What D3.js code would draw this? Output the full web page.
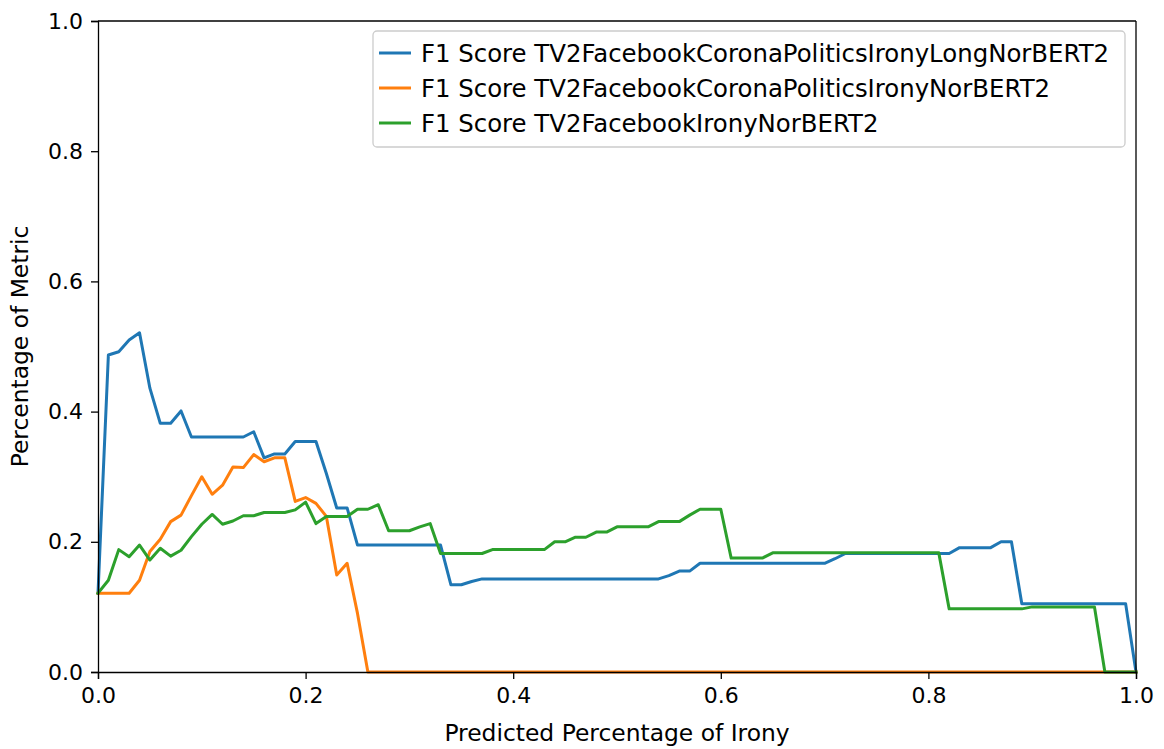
<!DOCTYPE html>
<html lang="en">
<head>
  <meta charset='utf-8'>
  <title>F1 Score vs Predicted Percentage of Irony</title>

  <style>
    body { margin: 0; background: #fff; }
    svg { display: block; background-color: #fff; font-family: "DejaVu Sans", sans-serif; }
    .domain { stroke: #000; }
  </style>
</head>

<body>
  <div id="d3_linePlot"></div>
</body>

<script src="https://cdn.jsdelivr.net/npm/d3@7/dist/d3.min.js"></script>

<script>

  ////////////////////////////////////////////////// DATA

  // x positions: 0.00, 0.01 ... 1.00
  var thresholds = d3.range(0, 101).map(function(i) { return i / 100; });

  var seriesNames = [
    "F1 Score TV2FacebookCoronaPoliticsIronyLongNorBERT2",
    "F1 Score TV2FacebookCoronaPoliticsIronyNorBERT2",
    "F1 Score TV2FacebookIronyNorBERT2"
  ];

  var longNorBERT = [
    0.121, 0.487, 0.492, 0.510, 0.521, 0.436, 0.382, 0.382, 0.401, 0.361,
    0.361, 0.361, 0.361, 0.361, 0.361, 0.369, 0.329, 0.335, 0.335, 0.354,
    0.354, 0.354, 0.305, 0.252, 0.252, 0.195, 0.195, 0.195, 0.195, 0.195,
    0.195, 0.195, 0.195, 0.195, 0.134, 0.134, 0.139, 0.143, 0.143, 0.143,
    0.143, 0.143, 0.143, 0.143, 0.143, 0.143, 0.143, 0.143, 0.143, 0.143,
    0.143, 0.143, 0.143, 0.143, 0.143, 0.148, 0.155, 0.155, 0.167, 0.167,
    0.167, 0.167, 0.167, 0.167, 0.167, 0.167, 0.167, 0.167, 0.167, 0.167,
    0.167, 0.174, 0.182, 0.182, 0.182, 0.182, 0.182, 0.182, 0.182, 0.182,
    0.182, 0.182, 0.182, 0.191, 0.191, 0.191, 0.191, 0.200, 0.200, 0.105,
    0.105, 0.105, 0.105, 0.105, 0.105, 0.105, 0.105, 0.105, 0.105, 0.105,
    0.000
  ];

  var coronaNorBERT = [
    0.121, 0.121, 0.121, 0.121, 0.141, 0.185, 0.204, 0.231, 0.241, 0.271,
    0.300, 0.273, 0.287, 0.315, 0.314, 0.334, 0.323, 0.329, 0.329, 0.262,
    0.268, 0.259, 0.239, 0.149, 0.167, 0.090, 0.000, 0.000, 0.000, 0.000,
    0.000, 0.000, 0.000, 0.000, 0.000, 0.000, 0.000, 0.000, 0.000, 0.000,
    0.000, 0.000, 0.000, 0.000, 0.000, 0.000, 0.000, 0.000, 0.000, 0.000,
    0.000, 0.000, 0.000, 0.000, 0.000, 0.000, 0.000, 0.000, 0.000, 0.000,
    0.000, 0.000, 0.000, 0.000, 0.000, 0.000, 0.000, 0.000, 0.000, 0.000,
    0.000, 0.000, 0.000, 0.000, 0.000, 0.000, 0.000, 0.000, 0.000, 0.000,
    0.000, 0.000, 0.000, 0.000, 0.000, 0.000, 0.000, 0.000, 0.000, 0.000,
    0.000, 0.000, 0.000, 0.000, 0.000, 0.000, 0.000, 0.000, 0.000, 0.000,
    0.000
  ];

  var ironyNorBERT = [
    0.121, 0.141, 0.188, 0.177, 0.195, 0.172, 0.190, 0.178, 0.187, 0.208,
    0.227, 0.242, 0.227, 0.232, 0.240, 0.240, 0.245, 0.245, 0.245, 0.249,
    0.261, 0.228, 0.239, 0.239, 0.239, 0.250, 0.250, 0.257, 0.217, 0.217,
    0.217, 0.223, 0.228, 0.182, 0.182, 0.182, 0.182, 0.182, 0.188, 0.188,
    0.188, 0.188, 0.188, 0.188, 0.200, 0.200, 0.207, 0.207, 0.215, 0.215,
    0.223, 0.223, 0.223, 0.223, 0.231, 0.231, 0.231, 0.241, 0.250, 0.250,
    0.250, 0.175, 0.175, 0.175, 0.175, 0.183, 0.183, 0.183, 0.183, 0.183,
    0.183, 0.183, 0.183, 0.183, 0.183, 0.183, 0.183, 0.183, 0.183, 0.183,
    0.183, 0.183, 0.097, 0.097, 0.097, 0.097, 0.097, 0.097, 0.097, 0.097,
    0.100, 0.100, 0.100, 0.100, 0.100, 0.100, 0.100, 0.000, 0.000, 0.000,
    0.000
  ];

  var seriesValues = [longNorBERT, coronaNorBERT, ironyNorBERT];
  var seriesColors = ["#1f77b4", "#ff7f0e", "#2ca02c"];

  var xTicks = [0, 0.2, 0.4, 0.6, 0.8, 1.0];
  var yTicks = [0, 0.2, 0.4, 0.6, 0.8, 1.0];

  var xLabel = "Predicted Percentage of Irony";
  var yLabel = "Percentage of Metric";

  ////////////////////////////////////////////////// INIT VARS

  var totalWidth = 1164;
  var totalHeight = 749;
  var margin = {top: 21, right: 28, bottom: 77, left: 98};

  var plotWidth = totalWidth - margin.left - margin.right;
  var plotHeight = totalHeight - margin.top - margin.bottom;

  var tickFontSize = 22;
  var labelFontSize = 23.4;
  var legendFontSize = 24.4;

  ////////////////////////////////////////////////// SETUP

  var svg = d3.select("#d3_linePlot").append("svg")
            .attr("width", totalWidth)
            .attr("height", totalHeight);

  var plot = svg.append("g")
            .attr("transform", "translate(" + margin.left + "," + margin.top + ")");

  var xScale = d3.scaleLinear().domain([0, 1]).range([0, plotWidth]);
  var yScale = d3.scaleLinear().domain([0, 1]).range([plotHeight, 0]);

  // lines
  var line = d3.line()
            .x(function(d) { return xScale(d[0]); })
            .y(function(d) { return yScale(d[1]); });

  seriesValues.forEach(function(values, i) {
    plot.append("path")
      .datum(thresholds.map(function(t, j) { return [t, values[j]]; }))
      .attr("fill", "none")
      .attr("stroke", seriesColors[i])
      .attr("stroke-width", 3)
      .attr("stroke-linejoin", "round")
      .attr("stroke-linecap", "square")
      .attr("d", line);
  });

  // axes
  var xAxis = plot.append("g")
      .attr("transform", "translate(0," + plotHeight + ")")
      .call(d3.axisBottom(xScale).tickValues(xTicks).tickFormat(d3.format(".1f")).tickSize(7).tickPadding(8));

  var yAxis = plot.append("g")
      .call(d3.axisLeft(yScale).tickValues(yTicks).tickFormat(d3.format(".1f")).tickSize(7).tickPadding(8));

  [xAxis, yAxis].forEach(function(ax) {
    ax.selectAll("text").attr("font-size", tickFontSize).attr("font-family", "DejaVu Sans").attr("fill", "#000");
    ax.selectAll("line").attr("stroke", "#000").attr("stroke-width", 1.3);
    ax.select(".domain").attr("stroke-width", 1.3);
  });

  // top / right spines
  plot.append("line").attr("x1", 0).attr("x2", plotWidth).attr("y1", 0).attr("y2", 0)
      .attr("stroke", "#000").attr("stroke-width", 1.3);
  plot.append("line").attr("x1", plotWidth).attr("x2", plotWidth).attr("y1", 0).attr("y2", plotHeight)
      .attr("stroke", "#000").attr("stroke-width", 1.3);

  // axis labels
  svg.append("text")
      .attr("x", margin.left + plotWidth / 2)
      .attr("y", 741)
      .attr("text-anchor", "middle")
      .attr("font-size", labelFontSize)
      .text(xLabel);

  svg.append("text")
      .attr("transform", "translate(28," + (margin.top + plotHeight / 2) + ")rotate(-90)")
      .attr("text-anchor", "middle")
      .attr("font-size", labelFontSize)
      .text(yLabel);

  ////////////////////////////////////////////////// LEGEND

  var legend = plot.append("g").attr("transform", "translate(275,10)");

  legend.append("rect")
      .attr("x", 0).attr("y", 0)
      .attr("width", 752).attr("height", 116)
      .attr("rx", 4)
      .attr("fill", "#fff")
      .attr("fill-opacity", 0.8)
      .attr("stroke", "#ccc")
      .attr("stroke-width", 1.3);

  seriesNames.forEach(function(name, i) {
    var rowY = 22 + i * 35;
    legend.append("line")
      .attr("x1", 6).attr("x2", 38)
      .attr("y1", rowY).attr("y2", rowY)
      .attr("stroke", seriesColors[i])
      .attr("stroke-width", 3);
    legend.append("text")
      .attr("x", 48).attr("y", rowY)
      .attr("dy", "0.35em")
      .attr("font-size", legendFontSize)
      .text(name);
  });

</script>
</html>
